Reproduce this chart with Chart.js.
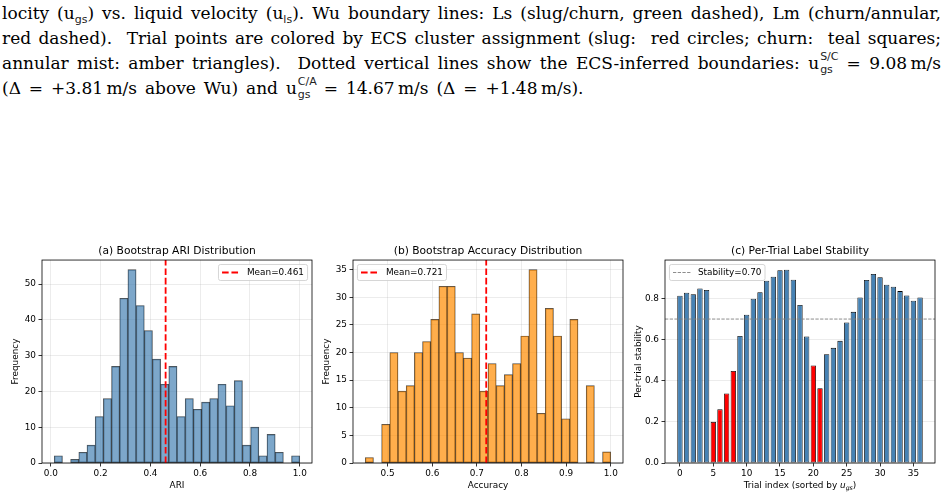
<!DOCTYPE html>
<html>
<head>
<meta charset="utf-8">
<title>Bootstrap stability</title>
<script src="https://cdn.jsdelivr.net/npm/chart.js@4.4.1/dist/chart.umd.min.js"></script>
<style>
  html, body { margin: 0; padding: 0; background: #fff; }
  body { position: relative; width: 947px; height: 497px; overflow: hidden; }
  #caption { position: absolute; left: 2px; top: 1px; width: 939px; font-family: 'DejaVu Serif', serif; font-size: 17px; color: #000; }
  #caption .ln { height: 25px; line-height: 25px; text-align: justify; text-align-last: justify; white-space: nowrap; }
  #caption .ln.last { text-align-last: left; word-spacing: 2.5px; }
  .sb { position: relative; top: 4px; font-family: 'DejaVu Sans', sans-serif; font-size: 11px; color: #222; }
  .st { position: relative; display: inline-block; width: 19px; height: 17px; }
  .st span { position: absolute; left: 1px; font-family: 'DejaVu Sans', sans-serif; font-size: 11px; line-height: 13px; color: #222; }
  .st .up { top: -2px; }
  .st .dn { top: 11px; }
  canvas { position: absolute; top: 235px; }
</style>
</head>
<body>
<div id="caption">
  <div class="ln">locity (u<span class="sb">gs</span>) vs. liquid velocity (u<span class="sb">ls</span>). Wu boundary lines: Ls (slug/churn, green dashed), Lm (churn/annular,</div>
  <div class="ln">red dashed). &nbsp;Trial points are colored by ECS cluster assignment (slug: &nbsp;red circles; churn: &nbsp;teal squares;</div>
  <div class="ln">annular mist: amber triangles). &nbsp;Dotted vertical lines show the ECS-inferred boundaries: u<span class="st"><span class="up">S/C</span><span class="dn">gs</span></span> = 9.08&thinsp;m/s</div>
  <div class="ln last">(&Delta; = +3.81&thinsp;m/s above Wu) and u<span class="st"><span class="up">C/A</span><span class="dn">gs</span></span> = 14.67&thinsp;m/s (&Delta; = +1.48&thinsp;m/s).</div>
</div>

<canvas id="ariChart" width="316" height="262" style="left:0px"></canvas>
<canvas id="accChart" width="316" height="262" style="left:311px"></canvas>
<canvas id="stabChart" width="316" height="262" style="left:623px"></canvas>

<script>
// (a) bootstrap ARI histogram, 30 bins
const ariCounts = [2, 0, 1, 3, 5, 13, 18, 27, 46, 54, 44, 37, 29, 22, 27, 13, 18, 15, 17, 18, 22, 16, 23, 5, 10, 2, 8, 3, 0, 2];
const ariRange = [0.0135, 1.0];
const ariMean = 0.461;
const ariXTicks = [0.0, 0.2, 0.4, 0.6, 0.8, 1.0];
const ariYTicks = [0, 10, 20, 30, 40, 50];

// (b) bootstrap accuracy histogram, 30 bins
const accCounts = [1, 0, 7, 20, 13, 14, 20, 22, 26, 32, 32, 20, 19, 27, 13, 18, 14, 16, 18, 23, 35, 9, 28, 23, 8, 26, 0, 14, 0, 2];
const accRange = [0.45, 1.0];
const accMean = 0.721;
const accXTicks = [0.5, 0.6, 0.7, 0.8, 0.9, 1.0];
const accYTicks = [0, 5, 10, 15, 20, 25, 30, 35];

// (c) per-trial stability, trials sorted by u_gs
const trialStability = [0.813, 0.828, 0.821, 0.849, 0.841, 0.200, 0.261, 0.338, 0.448, 0.618,
                        0.721, 0.799, 0.830, 0.886, 0.906, 0.937, 0.940, 0.891, 0.768, 0.615,
                        0.474, 0.364, 0.529, 0.560, 0.594, 0.683, 0.735, 0.805, 0.890, 0.919,
                        0.903, 0.867, 0.857, 0.836, 0.815, 0.789, 0.805];
const stabilityLine = 0.70;
const unstableBelow = 0.5;
const trialXTicks = [0, 5, 10, 15, 20, 25, 30, 35];
const trialYTicks = [0.0, 0.2, 0.4, 0.6, 0.8];

const SANS = "'DejaVu Sans', sans-serif";
const FS = 8.9;
const GRID = 'rgba(176,176,176,0.3)';
Chart.defaults.font.family = SANS;
Chart.defaults.color = '#000';

// matplotlib style autoscale: 5% margins
function padded(lo, hi) {
    const m = (hi - lo) * 0.05;
    return [lo - m, hi + m];
}

function binPoints(counts, range) {
    const w = (range[1] - range[0]) / counts.length;
    return counts.map((c, i) => ({ x: range[0] + (i + 0.5) * w, y: c }));
}

// spines, legend box and (optionally) a title with subscript
const mplExtras = {
    id: 'mplExtras',
    afterDatasetsDraw(chart, args, opts) {
        const { ctx, chartArea: ca } = chart;
        ctx.save();
        ctx.lineWidth = 0.8;
        ctx.strokeStyle = '#000';
        ctx.strokeRect(ca.left, ca.top, ca.right - ca.left, ca.bottom - ca.top);

        const ds = chart.data.datasets.find(d => d.type === 'line');
        ctx.font = FS + 'px ' + SANS;
        const pad = 0.4 * FS, hl = 2 * FS, tp = 0.8 * FS, inset = 0.5 * FS;
        const w = 2 * pad + hl + tp + ctx.measureText(ds.label).width;
        const h = 2 * pad + FS;
        const x = opts.corner === 'right' ? ca.right - inset - w : ca.left + inset;
        const y = ca.top + inset;
        ctx.beginPath();
        ctx.roundRect(x, y, w, h, 2);
        ctx.fillStyle = 'rgba(255,255,255,0.8)';
        ctx.fill();
        ctx.strokeStyle = '#cccccc';
        ctx.stroke();
        ctx.beginPath();
        ctx.setLineDash(ds.borderDash);
        ctx.strokeStyle = ds.borderColor;
        ctx.lineWidth = ds.borderWidth;
        ctx.moveTo(x + pad, y + h / 2);
        ctx.lineTo(x + pad + hl, y + h / 2);
        ctx.stroke();
        ctx.setLineDash([]);
        ctx.fillStyle = '#000';
        ctx.textBaseline = 'middle';
        ctx.fillText(ds.label, x + pad + hl + tp, y + h / 2 + 0.5);

        if (opts.xTitle) {
            const parts = opts.xTitle;
            const fontOf = p => (p.italic ? 'italic ' : '') + (p.sub ? FS * 0.7 : FS) + 'px ' + SANS;
            let total = 0;
            parts.forEach(p => { ctx.font = fontOf(p); total += ctx.measureText(p.t).width; });
            let tx = (ca.left + ca.right) / 2 - total / 2;
            const ty = chart.scales.x.bottom - 5.7 - FS * 0.6;
            parts.forEach(p => {
                ctx.font = fontOf(p);
                ctx.fillText(p.t, tx, ty + (p.sub ? 2.5 : 0));
                tx += ctx.measureText(p.t).width;
            });
        }
        ctx.restore();
    }
};

function panel(id, o) {
    return new Chart(document.getElementById(id), {
        type: 'bar',
        data: { datasets: o.datasets },
        options: {
            responsive: false,
            animation: false,
            layout: { padding: { left: 0, right: 4, top: 0, bottom: 0 } },
            plugins: {
                legend: { display: false },
                tooltip: { enabled: false },
                title: {
                    display: true, text: o.title, fullSize: false, color: '#000',
                    font: { size: 10.7, weight: 'normal' },
                    padding: { top: 10.3, bottom: 1.9 }
                },
                mplExtras: { corner: o.legendCorner, xTitle: o.xTitleParts }
            },
            scales: {
                x: {
                    type: 'linear', min: o.xlim[0], max: o.xlim[1], offset: false,
                    afterBuildTicks: s => { s.ticks = o.xTicks.map(v => ({ value: v })); },
                    afterFit: s => { s.height = 34; },
                    ticks: { font: { size: FS }, padding: 1.5, maxRotation: 0, autoSkip: false, callback: o.xFmt },
                    grid: { offset: false, drawOnChartArea: o.xGrid, color: GRID, lineWidth: 0.8,
                            tickColor: '#000', tickLength: 3.5, tickWidth: 0.8 },
                    border: { display: false },
                    title: { display: !!o.xTitle, text: o.xTitle, font: { size: FS }, padding: { top: 0, bottom: 5.7 } }
                },
                y: {
                    min: 0, max: o.ymax,
                    afterBuildTicks: s => { s.ticks = o.yTicks.map(v => ({ value: v })); },
                    afterFit: s => { s.width = 42; },
                    ticks: { font: { size: FS }, padding: 2.5, callback: o.yFmt },
                    grid: { color: GRID, lineWidth: 0.8, tickColor: '#000', tickLength: 3.5, tickWidth: 0.8 },
                    border: { display: false },
                    title: { display: true, text: o.yTitle, font: { size: FS }, padding: { top: 10.6, bottom: 0 } }
                }
            }
        },
        plugins: [mplExtras]
    });
}

function histDatasets(counts, range, mean, ymax, fill) {
    return [{
        type: 'bar',
        data: binPoints(counts, range),
        backgroundColor: fill,
        borderColor: 'rgba(0,0,0,0.7)',
        borderWidth: 0.7,
        borderSkipped: false,
        barPercentage: 1,
        categoryPercentage: 1,
        order: 2
    }, {
        type: 'line',
        label: 'Mean=' + mean.toFixed(3),
        data: [{ x: mean, y: 0 }, { x: mean, y: ymax }],
        borderColor: 'red',
        borderWidth: 1.8,
        borderDash: [6.6, 2.8],
        pointRadius: 0,
        order: 1
    }];
}

const ariYMax = Math.max(...ariCounts) * 1.05;
panel('ariChart', {
    title: '(a) Bootstrap ARI Distribution',
    xTitle: 'ARI', yTitle: 'Frequency',
    xlim: padded(ariRange[0], ariRange[1]), ymax: ariYMax,
    xTicks: ariXTicks, yTicks: ariYTicks, xGrid: true,
    xFmt: v => v.toFixed(1), yFmt: v => String(v),
    legendCorner: 'right',
    datasets: histDatasets(ariCounts, ariRange, ariMean, ariYMax, 'rgba(70,130,180,0.7)')
});

const accYMax = Math.max(...accCounts) * 1.05;
panel('accChart', {
    title: '(b) Bootstrap Accuracy Distribution',
    xTitle: 'Accuracy', yTitle: 'Frequency',
    xlim: padded(accRange[0], accRange[1]), ymax: accYMax,
    xTicks: accXTicks, yTicks: accYTicks, xGrid: true,
    xFmt: v => v.toFixed(1), yFmt: v => String(v),
    legendCorner: 'left',
    datasets: histDatasets(accCounts, accRange, accMean, accYMax, 'rgba(255,140,0,0.7)')
});

const trialLim = padded(-0.4, trialStability.length - 1 + 0.4);
const stabYMax = Math.max(...trialStability) * 1.05;
panel('stabChart', {
    title: '(c) Per-Trial Label Stability',
    xTitle: '', yTitle: 'Per-trial stability',
    xTitleParts: [{ t: 'Trial index (sorted by ' }, { t: 'u', italic: true }, { t: 'gs', italic: true, sub: true }, { t: ')' }],
    xlim: trialLim, ymax: stabYMax,
    xTicks: trialXTicks, yTicks: trialYTicks, xGrid: false,
    xFmt: v => String(v), yFmt: v => v.toFixed(1),
    legendCorner: 'left',
    datasets: [{
        type: 'bar',
        data: trialStability.map((v, i) => ({ x: i, y: v })),
        backgroundColor: function(context) {
            const v = context.raw ? context.raw.y : 1;
            return v < unstableBelow ? 'red' : 'steelblue';  // low-stability trials in red
        },
        borderColor: '#000',
        borderWidth: 0.8,
        borderSkipped: false,
        barPercentage: 0.8,
        categoryPercentage: 1,
        order: 2
    }, {
        type: 'line',
        label: 'Stability=' + stabilityLine.toFixed(2),
        data: [{ x: trialLim[0], y: stabilityLine }, { x: trialLim[1], y: stabilityLine }],
        borderColor: 'gray',
        borderWidth: 0.9,
        borderDash: [3.3, 1.4],
        pointRadius: 0,
        order: 1
    }]
});
</script>
</body>
</html>
